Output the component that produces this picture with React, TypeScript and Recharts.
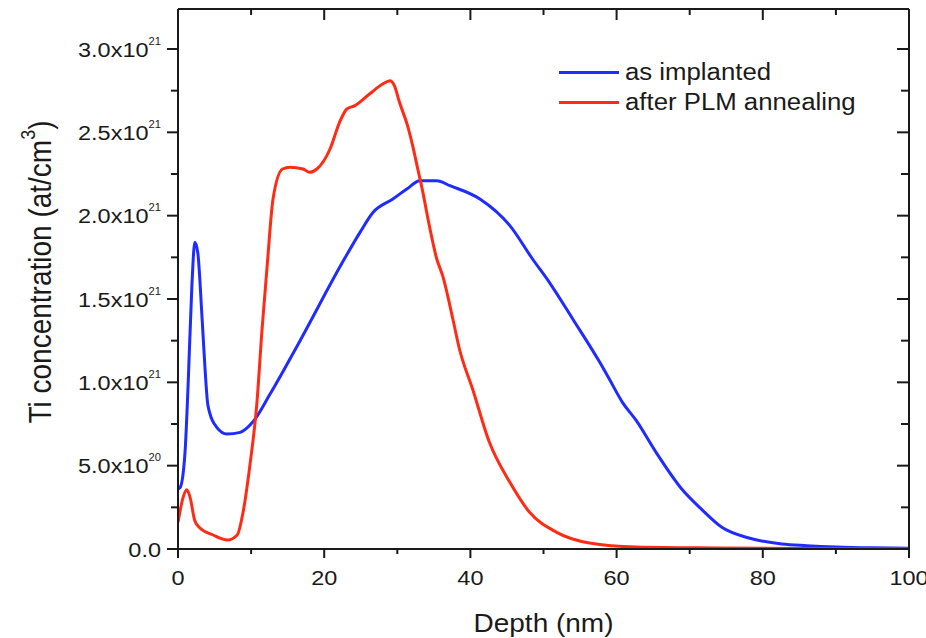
import { LineChart, Line, XAxis, YAxis, Legend, Label, ReferenceLine } from "recharts";

// depth in nm, concentration in units of 1e21 at/cm3
const asImplantedDepth = [
  0, 0.3, 0.96, 1.37, 1.9, 2.3, 2.7, 3.3, 3.7, 4.1, 5.3, 6.7, 8.5, 10.2, 12.6, 16.7, 22.5, 24.9, 26.7,
  29.4, 31.3, 33.1, 35.4, 37.2, 41.3, 45.4, 48.5, 50.8, 54.0, 57.7, 59.0, 60.8, 62.7, 65.4, 69.0, 71.7,
  74.4, 78.1, 82.6, 86, 90, 95, 100,
];
const asImplantedConc = [
  0.36, 0.37, 0.58, 0.97, 1.58, 1.84, 1.78, 1.38, 1.08, 0.86, 0.73, 0.69, 0.7, 0.76, 0.93, 1.25, 1.72, 1.9,
  2.02, 2.1, 2.16, 2.21, 2.21, 2.18, 2.1, 1.94, 1.74, 1.6, 1.38, 1.12, 1.02, 0.88, 0.77, 0.58, 0.355, 0.235,
  0.13, 0.066, 0.03, 0.02, 0.012, 0.007, 0.005,
];

const plmDepth = [
  0, 0.7, 1.2, 1.65, 2.3, 3.0, 4.8, 6.8, 8.1, 8.9, 9.8, 10.8, 11.5, 12.2, 13.0, 14.3, 15.3, 17.1, 18.0,
  19.0, 20.8, 22.1, 23.1, 24.2, 26.2, 28.0, 29.0, 29.6, 30.3, 31.4, 32.1, 32.8, 33.5, 34.2, 35.4, 36.2,
  37.6, 38.5, 40.3, 42.6, 45.4, 48.1, 51.8, 56.3, 62.7, 73.6, 85, 100,
];
const plmConc = [
  0.16, 0.31, 0.355, 0.31, 0.17, 0.126, 0.084, 0.054, 0.084, 0.22, 0.49, 0.88, 1.32, 1.7, 2.1, 2.28, 2.29,
  2.28, 2.26, 2.28, 2.4, 2.56, 2.64, 2.66, 2.73, 2.79, 2.81, 2.78, 2.68, 2.54, 2.42, 2.28, 2.14, 1.98, 1.74,
  1.64, 1.38, 1.2, 0.96, 0.64, 0.4, 0.22, 0.1, 0.036, 0.012, 0.006, 0.003, 0.002,
];

const seriesNames = ["as implanted", "after PLM annealing"];
const xTicks = [0, 10, 20, 30, 40, 50, 60, 70, 80, 90, 100];
const yTicks = [0, 0.25, 0.5, 0.75, 1, 1.25, 1.5, 1.75, 2, 2.25, 2.5, 2.75, 3];

const asImplanted = asImplantedDepth.map((d, i) => ({ depth: d, conc: asImplantedConc[i] }));
const afterPlm = plmDepth.map((d, i) => ({ depth: d, conc: plmConc[i] }));

const INK = "#1a1a1a";
const FONT = "'Liberation Sans', Arial, sans-serif";
const SX = 1.12; // the source image is a little stretched sideways
const SW = 2;

const isMajorX = (v: number) => v % 20 === 0;
const isMajorY = (v: number) => Math.round(v * 4) % 2 === 0;

function yLabel(v: number) {
  if (v === 0) return <tspan>0.0</tspan>;
  if (v === 0.5)
    return (
      <>
        <tspan>5.0x10</tspan>
        <tspan dy={-12} fontSize={10}>20</tspan>
      </>
    );
  return (
    <>
      <tspan>{v.toFixed(1)}x10</tspan>
      <tspan dy={-12} fontSize={10}>21</tspan>
    </>
  );
}

const BottomTick = ({ x, y, payload }: any) => {
  const major = isMajorX(payload.value);
  return (
    <g>
      <line x1={x} x2={x} y1={y} y2={y + (major ? 9 : 5)} stroke={INK} strokeWidth={SW} />
      {major && (
        <text transform={`translate(${x},${y + 36}) scale(${SX},1)`} textAnchor="middle" fontSize={21} fontFamily={FONT} fill={INK}>
          {payload.value}
        </text>
      )}
    </g>
  );
};

// inward tick on the top frame edge, drawn from a full-height reference line
const topTickShape = (value: number) => (p: any) => {
  const top = Math.min(p.y1, p.y2);
  return <line x1={p.x1} x2={p.x1} y1={top} y2={top + (isMajorX(value) ? 11 : 6)} stroke={INK} strokeWidth={SW} />;
};

const LeftTick = ({ x, y, payload }: any) => {
  const major = isMajorY(payload.value);
  return (
    <g>
      <line x1={x - (major ? 11 : 7)} x2={x} y1={y} y2={y} stroke={INK} strokeWidth={SW} />
      {major && (
        <text transform={`translate(${x - 17},${y + 7.5}) scale(${SX},1)`} textAnchor="end" fontSize={21} fontFamily={FONT} fill={INK}>
          {yLabel(payload.value)}
        </text>
      )}
    </g>
  );
};

const RightTick = ({ x, y, payload }: any) => (
  <line x1={x - (isMajorY(payload.value) ? 12 : 8)} x2={x} y1={y} y2={y} stroke={INK} strokeWidth={SW} />
);

const YTitle = ({ viewBox }: any) => (
  <text
    transform={`translate(${viewBox.x + 51},${viewBox.y + viewBox.height / 2 - 7}) scale(${SX},1) rotate(-90)`}
    textAnchor="middle"
    fontSize={28}
    fontFamily={FONT}
    fill={INK}
  >
    Ti concentration (at/cm<tspan dy={-14} fontSize={18}>3</tspan>
    <tspan dy={14}>)</tspan>
  </text>
);

const XTitle = ({ viewBox }: any) => (
  <text
    transform={`translate(${viewBox.x + viewBox.width / 2},${viewBox.y + 83}) scale(${SX},1)`}
    textAnchor="middle"
    fontSize={25}
    fontFamily={FONT}
    fill={INK}
  >
    Depth (nm)
  </text>
);

const LegendBox = ({ payload }: any) => {
  const items = [...(payload || [])]
    .filter((p: any) => seriesNames.includes(p.value))
    .sort((a: any, b: any) => seriesNames.indexOf(a.value) - seriesNames.indexOf(b.value));
  return (
    <div style={{ fontFamily: FONT, fontSize: 23, color: INK, lineHeight: "30px" }}>
      {items.map((p: any) => (
        <div key={p.value} style={{ display: "flex", alignItems: "center", whiteSpace: "nowrap" }}>
          <div style={{ width: 60, height: 3, background: p.color, marginRight: 6 }} />
          <span style={{ display: "inline-block", transform: `scaleX(${SX})`, transformOrigin: "left center" }}>{p.value}</span>
        </div>
      ))}
    </div>
  );
};

export default function App() {
  return (
    <div style={{ position: "absolute", left: 0, top: 0, width: 926, height: 638, background: "#fff" }}>
      <LineChart width={926} height={638} margin={{ top: 0, right: 0, bottom: 0, left: 0 }}>
        <XAxis
          dataKey="depth"
          type="number"
          domain={[0, 100]}
          ticks={xTicks}
          allowDataOverflow
          height={89}
          tickSize={0}
          tickMargin={0}
          tickLine={false}
          axisLine={{ stroke: INK, strokeWidth: SW }}
          tick={<BottomTick />}
          interval={0}
        >
          <Label content={<XTitle />} />
        </XAxis>
        <XAxis
          xAxisId="top"
          orientation="top"
          type="number"
          domain={[0, 100]}
          allowDataOverflow
          height={9}
          tickLine={false}
          tick={false}
          axisLine={{ stroke: INK, strokeWidth: SW }}
        />
        <YAxis
          type="number"
          domain={[0, 3.24]}
          ticks={yTicks}
          allowDataOverflow
          width={178}
          tickSize={0}
          tickMargin={0}
          tickLine={false}
          axisLine={{ stroke: INK, strokeWidth: SW }}
          tick={<LeftTick />}
          interval={0}
        >
          <Label content={<YTitle />} />
        </YAxis>
        <YAxis
          yAxisId="right"
          orientation="right"
          type="number"
          domain={[0, 3.24]}
          ticks={yTicks}
          allowDataOverflow
          width={17}
          tickSize={0}
          tickMargin={0}
          tickLine={false}
          axisLine={{ stroke: INK, strokeWidth: SW }}
          tick={<RightTick />}
          interval={0}
        />
        {xTicks.map((t) => (
          <ReferenceLine key={t} x={t} stroke="none" shape={topTickShape(t)} />
        ))}
        <Legend
          layout="vertical"
          align="center"
          verticalAlign="middle"
          content={<LegendBox />}
          wrapperStyle={{ left: 559, top: 57, width: 320 }}
        />
        <Line
          data={asImplanted}
          dataKey="conc"
          name={seriesNames[0]}
          type="monotone"
          stroke="#1f2bff"
          strokeWidth={3}
          dot={false}
          activeDot={false}
          isAnimationActive={false}
        />
        <Line
          data={afterPlm}
          dataKey="conc"
          name={seriesNames[1]}
          type="monotone"
          stroke="#ff2b14"
          strokeWidth={3}
          dot={false}
          activeDot={false}
          isAnimationActive={false}
        />
      </LineChart>
    </div>
  );
}
